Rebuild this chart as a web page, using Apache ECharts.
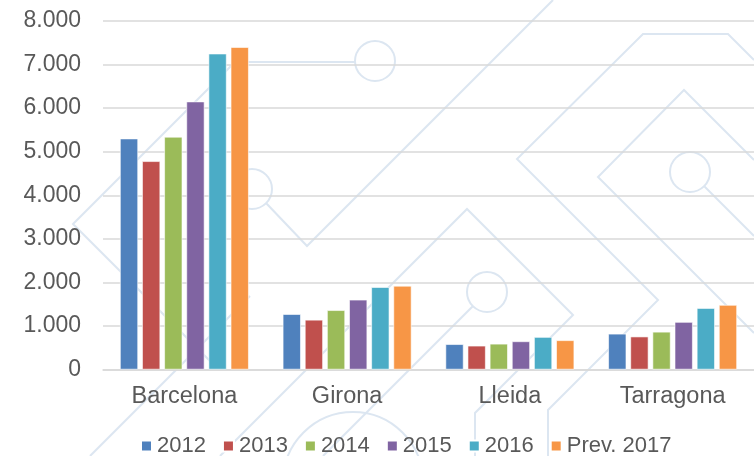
<!DOCTYPE html>
<html>
<head>
<meta charset="utf-8">
<title>Provincias</title>
<script src="https://cdn.jsdelivr.net/npm/echarts@6/dist/echarts.min.js"></script>
<style>
  html, body { margin: 0; padding: 0; background: #fff; }
  #chart { width: 754px; height: 456px; }
</style>
</head>
<body>
<div id="chart"></div>
<script>
// categorias (provincias)
const provincias = ['Barcelona', 'Girona', 'Lleida', 'Tarragona']
// series por año
const anys = ['2012', '2013', '2014', '2015', '2016', 'Prev. 2017']
const v2012 = [5300, 1270, 580, 820]
const v2013 = [4780, 1140, 545, 755]
const v2014 = [5340, 1360, 590, 865]
const v2015 = [6150, 1600, 645, 1090]
const v2016 = [7250, 1890, 745, 1410]
const v2017 = [7400, 1920, 670, 1480]
const colores = ['#4F81BD', '#C0504D', '#9BBB59', '#8064A2', '#4BACC6', '#F79646']

const valores = [v2012, v2013, v2014, v2015, v2016, v2017]

// fondo decorativo (lineas y circulos)
const deco = '#DCE6F1'
const linea = (pts) => ({
  type: 'polyline', z: -10, silent: true,
  shape: { points: pts },
  style: { stroke: deco, lineWidth: 2, fill: null }
})
const circulo = (cx, cy, r) => ({
  type: 'circle', z: -10, silent: true,
  shape: { cx: cx, cy: cy, r: r },
  style: { stroke: deco, lineWidth: 2, fill: null }
})
const fondo = [
  linea([[215, 366], [73, 224], [235, 62], [355, 62]]),
  circulo(375, 61, 20),
  linea([[90, 456], [250, 296]]),
  circulo(252, 189, 20),
  linea([[266, 203], [307, 246], [553, 0]]),
  linea([[220, 456], [467, 209], [573, 315], [475, 413], [475, 456]]),
  circulo(487, 292, 20),
  linea([[473, 306], [323, 456]]),
  circulo(353, 482, 70),
  linea([[548, 456], [548, 410], [658, 300], [517, 159], [643, 34], [728, 34], [754, 60]]),
  linea([[754, 160], [684, 90], [598, 177], [754, 333]]),
  circulo(690, 172, 20),
  linea([[704, 186], [754, 236]])
]

const chart = echarts.init(document.getElementById('chart'))

const option = {
  animation: false,
  backgroundColor: '#fff',
  textStyle: { fontFamily: 'Liberation Sans, Arial, sans-serif' },
  graphic: fondo,
  grid: {
    left: 103,
    right: -16,
    top: 21,
    bottom: 86.5
  },
  legend: {
    data: anys,
    left: 140,
    top: 435,
    padding: 0,
    itemWidth: 11,
    itemHeight: 11,
    itemGap: 16,
    icon: 'rect',
    textStyle: { fontSize: 22, color: '#595959' }
  },
  xAxis: {
    type: 'category',
    data: provincias,
    axisTick: { show: false },
    axisLine: { lineStyle: { color: '#D9D9D9', width: 1.5 } },
    axisLabel: { fontSize: 23.5, color: '#595959', margin: 15 }
  },
  yAxis: {
    type: 'value',
    min: 0,
    max: 8000,
    interval: 1000,
    axisLine: { show: false },
    axisTick: { show: false },
    axisLabel: {
      fontSize: 23,
      color: '#595959',
      margin: 22,
      formatter: (v) => v === 0 ? '0' : String(v).replace(/\B(?=(\d{3})+(?!\d))/g, '.')
    },
    splitLine: { lineStyle: { color: '#D9D9D9', width: 1.5 } }
  },
  series: anys.map((nom, i) => ({
    name: nom,
    type: 'bar',
    data: valores[i],
    barWidth: 18,
    barGap: '23%',
    itemStyle: { color: colores[i], borderColor: '#fff', borderWidth: 0.6 }
  }))
}

chart.setOption(option)
</script>
</body>
</html>
